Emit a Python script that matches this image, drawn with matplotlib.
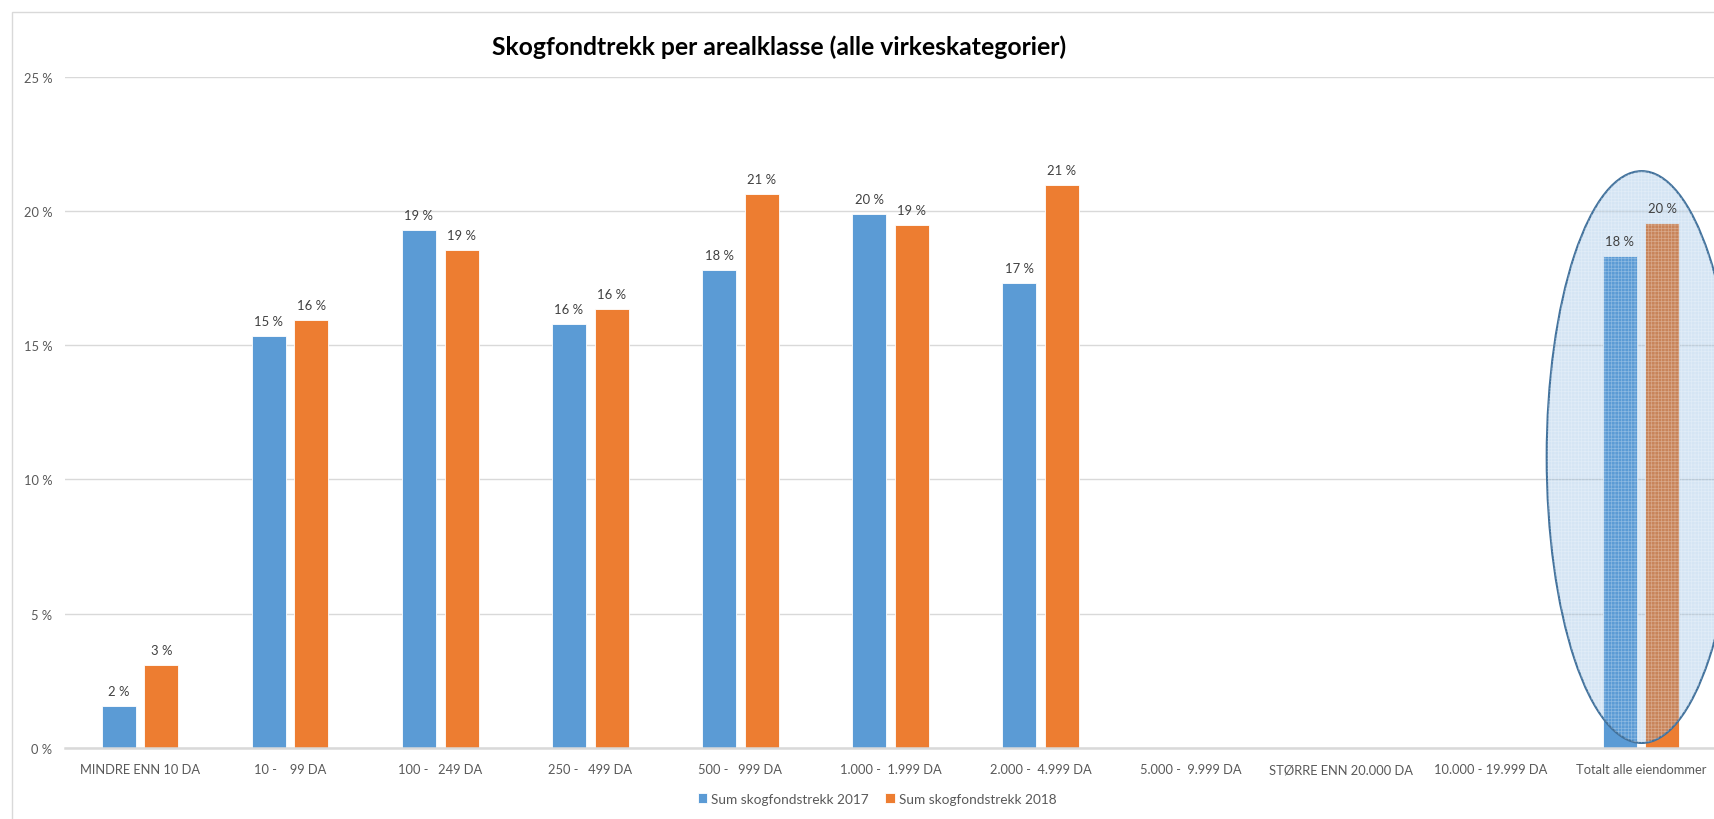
import matplotlib
matplotlib.use("Agg")
import matplotlib.pyplot as plt
from matplotlib.patches import Ellipse, Rectangle
import numpy as np

plt.rcParams['font.family'] = ['Lato', 'DejaVu Sans']

categories = ["MINDRE ENN 10 DA", "10 -    99 DA", "100 -   249 DA", "250 -   499 DA",
              "500 -   999 DA", "1.000 -  1.999 DA", "2.000 -  4.999 DA",
              "5.000 -  9.999 DA", "STØRRE ENN 20.000 DA", "10.000 - 19.999 DA",
              "Totalt alle eiendommer"]
sum_2017 = [1.55, 15.35, 19.3, 15.8, 17.8, 19.9, 17.3, np.nan, np.nan, np.nan, 18.3]
sum_2018 = [3.1, 15.95, 18.53, 16.33, 20.64, 19.46, 20.97, np.nan, np.nan, np.nan, 19.55]
series_names = ["Sum skogfondstrekk 2017", "Sum skogfondstrekk 2018"]
yticks = [0, 5, 10, 15, 20, 25]
title = "Skogfondtrekk per arealklasse (alle virkeskategorier)"

BLUE = "#5b9bd5"
ORANGE = "#ed7d31"
GRAY = "#595959"

W, H = 1714, 820
fig = plt.figure(figsize=(W / 100, H / 100), dpi=100)

# chart border
fig.patches.append(Rectangle((11.5 / W, -0.1), 1.2, (H - 13) / H + 0.1,
                             transform=fig.transFigure, fill=False,
                             edgecolor="#d9d9d9", linewidth=1.0))

ax = fig.add_axes([65 / W, 71.2 / H, 1651 / W, (748.8 - 77.6) / H])
x = np.arange(len(categories))
bw = 0.226
off = 0.142
b1 = ax.bar(x - off, sum_2017, bw, color=BLUE, edgecolor="white", linewidth=0.6,
            label=series_names[0], zorder=3)
b2 = ax.bar(x + off, sum_2018, bw, color=ORANGE, edgecolor="white", linewidth=0.6,
            label=series_names[1], zorder=3)

for bars, vals in ((b1, sum_2017), (b2, sum_2018)):
    for rect, v in zip(bars, vals):
        if np.isnan(v):
            continue
        ax.annotate(f"{int(np.floor(v + 0.5))} %",
                    (rect.get_x() + rect.get_width() / 2, v),
                    xytext=(0, 9), textcoords="offset pixels",
                    ha="center", va="bottom", fontsize=9.4, color="#404040", zorder=6)

ax.set_xlim(-0.5, len(categories) - 0.5)
ax.set_ylim(0, 25)
ax.set_yticks(yticks)
ax.set_yticklabels([f"{t} %" for t in yticks])
ax.set_xticks(x)
ax.set_xticklabels(categories)
ax.tick_params(axis="both", length=0, colors=GRAY, labelsize=9.3)
ax.tick_params(axis="x", pad=11)
ax.tick_params(axis="y", pad=9)
ax.grid(axis="y", color="#d9d9d9", linewidth=1.0, zorder=0)
for s in ("top", "right", "left"):
    ax.spines[s].set_visible(False)
ax.spines["bottom"].set_color("#d9d9d9")
ax.spines["bottom"].set_linewidth(1.8)
ax.spines["bottom"].set_zorder(4)

# highlight ellipse around the total
cx = len(categories) - 1
ell = Ellipse((cx + 0.005, 10.83), 1.266, 21.3, facecolor=(91 / 255, 155 / 255, 213 / 255, 0.25),
              edgecolor="#41719c", linewidth=1.5, zorder=5, clip_on=False)
ax.add_patch(ell)
plt.rcParams['hatch.linewidth'] = 0.5
ell2 = Ellipse((cx + 0.005, 10.83), 1.266, 21.3, facecolor="none",
               edgecolor=(1, 1, 1, 0.3), hatch="+++++", linewidth=0, zorder=5, clip_on=False)
ax.add_patch(ell2)

fig.text(779 / W, 1 - 55 / H, title, ha="center", va="baseline",
         fontsize=17.8, fontweight="bold", color="black")

fig.legend(handles=[b1, b2], labels=series_names, loc="center",
           bbox_to_anchor=(877 / W, 1 - 800 / H), ncol=2, frameon=False,
           fontsize=9.8, labelcolor=GRAY, handlelength=0.7, handleheight=0.7,
           handletextpad=0.3, columnspacing=1.2)

fig.savefig("out.png", dpi=100)
